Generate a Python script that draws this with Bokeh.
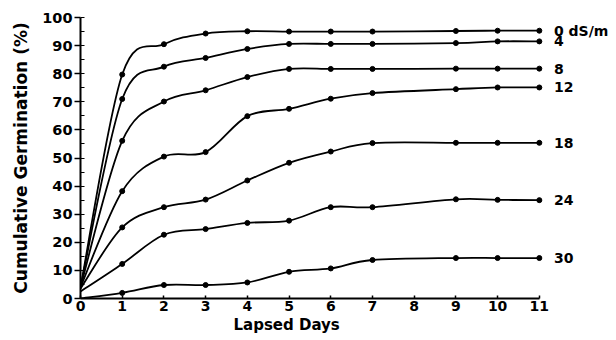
from bokeh.plotting import figure
from bokeh.models import Range1d, SingleIntervalTicker, Title, ColumnDataSource
from bokeh.core.properties import value
from bokeh.embed import file_html
from bokeh.resources import INLINE

days = [0, 1, 2, 3, 4, 5, 6, 7, 9, 10, 11]
g0 = [4.0, 79.7, 90.5, 94.3, 95.1, 95.0, 95.0, 95.0, 95.2, 95.3, 95.3]
g4 = [4.0, 71.0, 82.5, 85.6, 88.8, 90.6, 90.6, 90.6, 90.9, 91.5, 91.5]
g8 = [4.0, 56.1, 70.1, 74.1, 78.8, 81.7, 81.7, 81.7, 81.8, 81.8, 81.8]
g12 = [4.0, 38.2, 50.5, 52.1, 64.9, 67.5, 71.1, 73.1, 74.5, 75.1, 75.1]
g18 = [3.5, 25.3, 32.5, 35.2, 42.0, 48.3, 52.3, 55.3, 55.4, 55.4, 55.4]
g24 = [2.5, 12.3, 22.7, 24.7, 26.9, 27.7, 32.5, 32.5, 35.3, 35.1, 35.0]
g30 = [0.0, 2.0, 4.8, 4.8, 5.7, 9.5, 10.7, 13.7, 14.4, 14.4, 14.4]
series = [g0, g4, g8, g12, g18, g24, g30]
series_labels = ["0 dS/m", "4", "8", "12", "18", "24", "30"]
x_ticks = list(range(0, 12))
x_label = "Lapsed Days"
y_label = "Cumulative Germination (%)"

FONT = "DejaVu Sans"

p = figure(width=616, height=340, output_backend="svg", toolbar_location=None,
           x_range=Range1d(0, 12.85), y_range=Range1d(0, 100),
           min_border_left=80, min_border_right=0, min_border_top=17, min_border_bottom=42)
p.outline_line_color = None
p.xgrid.visible = False
p.ygrid.visible = False
p.background_fill_color = "white"
p.border_fill_color = "white"

xa = p.xaxis[0]
xa.ticker = x_ticks
xa.bounds = (0, 11)
xa.axis_line_width = 2
xa.major_tick_in = 3
xa.major_tick_out = 0
xa.major_tick_line_width = 1.5
xa.minor_tick_line_color = None
xa.major_label_text_font = FONT
xa.major_label_text_font_style = "bold"
xa.major_label_text_font_size = "14px"
xa.major_label_text_color = "black"
xa.major_label_standoff = 2

ya = p.yaxis[0]
ya.ticker = SingleIntervalTicker(interval=10, num_minor_ticks=2)
ya.axis_line_width = 2
ya.major_tick_in = 0
ya.major_tick_out = 6
ya.major_tick_line_width = 1.5
ya.minor_tick_in = 4
ya.minor_tick_out = 0
ya.minor_tick_line_width = 1.2
ya.major_label_text_font = FONT
ya.major_label_text_font_style = "bold"
ya.major_label_text_font_size = "14.5px"
ya.major_label_text_color = "black"
ya.major_label_standoff = 2
ya.axis_label = y_label
ya.axis_label_text_font = FONT
ya.axis_label_text_font_style = "bold"
ya.axis_label_text_font_size = "17px"
ya.axis_label_text_color = "black"
ya.axis_label_standoff = 8


def bezier_parts(xs, ys):
    n = len(xs)
    out = dict(x0=[], y0=[], x1=[], y1=[], cx0=[], cy0=[], cx1=[], cy1=[])
    for i in range(n - 1):
        xm, ym = (xs[i - 1], ys[i - 1]) if i > 0 else (xs[i], ys[i])
        xp, yp = (xs[i + 2], ys[i + 2]) if i + 2 < n else (xs[i + 1], ys[i + 1])
        out["x0"].append(xs[i]); out["y0"].append(ys[i])
        out["x1"].append(xs[i + 1]); out["y1"].append(ys[i + 1])
        out["cx0"].append(xs[i] + (xs[i + 1] - xm) / 6)
        out["cy0"].append(ys[i] + (ys[i + 1] - ym) / 6)
        out["cx1"].append(xs[i + 1] - (xp - xs[i]) / 6)
        out["cy1"].append(ys[i + 1] - (yp - ys[i]) / 6)
    return out


for ys, lab in zip(series, series_labels):
    src = ColumnDataSource(bezier_parts(days, ys))
    p.bezier(x0="x0", y0="y0", x1="x1", y1="y1", cx0="cx0", cy0="cy0",
             cx1="cx1", cy1="cy1", source=src, line_color="black", line_width=1.8)
    p.scatter(days[1:], ys[1:], size=5, color="black")
    p.text([11.35], [ys[-1]], text=[lab], text_font=value(FONT), text_font_style="bold",
           text_font_size="14px", text_baseline="middle", text_align="left", text_color="black")

p.add_layout(Title(text=x_label, align="left", offset=153, standoff=0,
                   text_font=FONT, text_font_style="bold", text_font_size="15px",
                   text_color="black"), "below")

open("out.html", "w").write(file_html(p, INLINE))
